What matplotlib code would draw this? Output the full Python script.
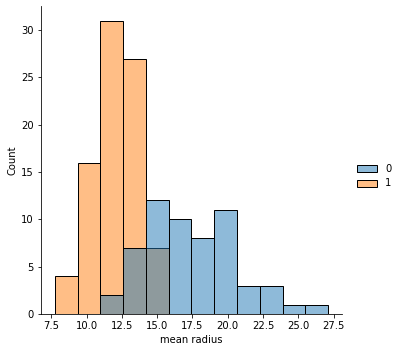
import numpy as np
import matplotlib
matplotlib.use("Agg")
import matplotlib.pyplot as plt
from matplotlib.colors import to_rgba
from matplotlib.patches import Patch

# bin edges of the histogram (mean radius)
bin_edges = [7.74, 9.36, 10.97, 12.59, 14.20, 15.82, 17.43,
             19.05, 20.66, 22.28, 23.90, 25.51, 27.13]
# counts per bin for each target class
counts_0 = [0, 0, 2, 7, 12, 10, 8, 11, 3, 3, 1, 1]
counts_1 = [4, 16, 31, 27, 7, 0, 0, 0, 0, 0, 0, 0]
labels = ["0", "1"]
colors = ["#1f77b4", "#ff7f0e"]

fig = plt.figure(figsize=(400 / 72, 352 / 72), dpi=72)
ax = fig.add_axes([0.1025, 0.108, 0.7525, 0.875])

left = np.array(bin_edges[:-1])
widths = np.diff(bin_edges)

# orange below, blue on top, both half transparent
ax.bar(left, counts_1, width=widths, align="edge",
       color=to_rgba(colors[1], 0.5), edgecolor="black", linewidth=1)
ax.bar(left, counts_0, width=widths, align="edge",
       color=to_rgba(colors[0], 0.5), edgecolor="black", linewidth=1)

ax.set_xticks([7.5, 10.0, 12.5, 15.0, 17.5, 20.0, 22.5, 25.0, 27.5])
ax.set_xlim(6.77, 28.1)
ax.set_ylim(0, 32.55)
ax.set_xlabel("mean radius")
ax.set_ylabel("Count")
ax.spines["top"].set_visible(False)
ax.spines["right"].set_visible(False)

handles = [Patch(facecolor=to_rgba(c, 0.5), edgecolor="black", linewidth=1)
           for c in colors]
fig.legend(handles, labels, loc="center left", bbox_to_anchor=(0.87, 0.5),
           frameon=False)

fig.savefig("out.png", dpi=72)
